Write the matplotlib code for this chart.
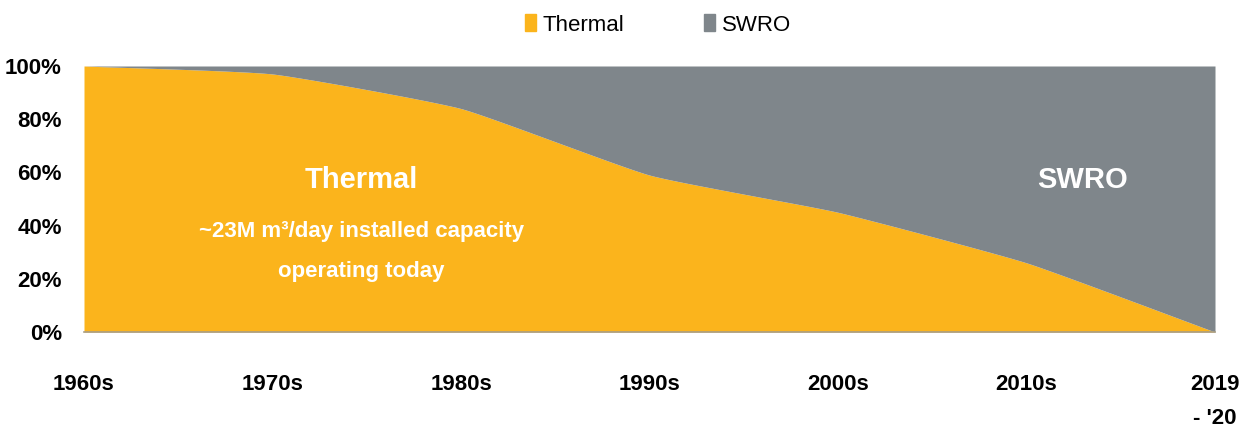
import numpy as np
import matplotlib
matplotlib.use("Agg")
import matplotlib.pyplot as plt
from matplotlib.patches import Patch

# Share of installed desalination capacity by technology (%)
decades = ["1960s", "1970s", "1980s", "1990s", "2000s", "2010s", "2019\n- '20"]
thermal = [100, 97, 84, 59, 45, 26, 0]
swro = [100 - t for t in thermal]

THERMAL_COLOR = "#FBB41C"
SWRO_COLOR = "#7F868B"
plt.rcParams["font.family"] = ["Liberation Sans", "DejaVu Sans"]


def smooth(xs, ys, tension=0.55, n=40):
    """Cardinal-spline curve through the points, like a smoothed line series."""
    xs = np.asarray(xs, float)
    ys = np.asarray(ys, float)
    k = len(xs)
    mx = np.zeros(k)
    my = np.zeros(k)
    for i in range(k):
        a, b = max(i - 1, 0), min(i + 1, k - 1)
        mx[i] = (1 - tension) * (xs[b] - xs[a]) / (b - a)
        my[i] = (1 - tension) * (ys[b] - ys[a]) / (b - a)
    t = np.linspace(0, 1, n, endpoint=False)
    h00 = 2 * t**3 - 3 * t**2 + 1
    h10 = t**3 - 2 * t**2 + t
    h01 = -2 * t**3 + 3 * t**2
    h11 = t**3 - t**2
    out_x, out_y = [], []
    for i in range(k - 1):
        out_x.extend(h00 * xs[i] + h10 * mx[i] + h01 * xs[i + 1] + h11 * mx[i + 1])
        out_y.extend(h00 * ys[i] + h10 * my[i] + h01 * ys[i + 1] + h11 * my[i + 1])
    out_x.append(xs[-1])
    out_y.append(ys[-1])
    return np.array(out_x), np.clip(np.array(out_y), 0, 100)


x = np.arange(len(decades))
sx, sy = smooth(x, thermal)

fig = plt.figure(figsize=(12.46, 4.38), dpi=100)
ax = fig.add_axes([84 / 1246, 1 - 332 / 438, (1215 - 84) / 1246, (332 - 66) / 438])

ax.fill_between(sx, 0, sy, color=THERMAL_COLOR, linewidth=0)
ax.fill_between(sx, sy, 100, color=SWRO_COLOR, linewidth=0)

ax.set_xlim(0, len(decades) - 1)
ax.set_ylim(0, 100)
ax.set_yticks([0, 20, 40, 60, 80, 100])
ax.set_yticklabels([f"{v}%" for v in [0, 20, 40, 60, 80, 100]])
ax.set_xticks(x)
ax.set_xticklabels(decades, linespacing=1.85, va="top")

for side in ("top", "right", "left"):
    ax.spines[side].set_visible(False)
ax.spines["bottom"].set_color("#a89e86")
ax.spines["bottom"].set_linewidth(1.2)
ax.tick_params(axis="both", length=0, labelsize=16, colors="black")
ax.tick_params(axis="x", pad=30)
ax.tick_params(axis="y", pad=16)
for lbl in ax.get_xticklabels() + ax.get_yticklabels():
    lbl.set_fontweight("bold")

# In-chart labels
ax.text(1.47, 57, "Thermal", color="white", fontsize=21, fontweight="bold",
        ha="center", va="center")
ax.text(1.47, 37.6, "~23M m³/day installed capacity", color="white",
        fontsize=16, fontweight="bold", ha="center", va="center")
ax.text(1.47, 22.6, "operating today", color="white",
        fontsize=16, fontweight="bold", ha="center", va="center")
ax.text(5.3, 57, "SWRO", color="white", fontsize=21, fontweight="bold",
        ha="center", va="center")

handles = [Patch(color=THERMAL_COLOR, label="Thermal"), Patch(color=SWRO_COLOR, label="SWRO")]
fig.legend(handles=handles, loc="center", bbox_to_anchor=(658 / 1246, 1 - 25 / 438),
           ncol=2, frameon=False, fontsize=16, handlelength=0.5, handleheight=0.8,
           handletextpad=0.3, columnspacing=3.6)

fig.savefig("out.png", dpi=100)
